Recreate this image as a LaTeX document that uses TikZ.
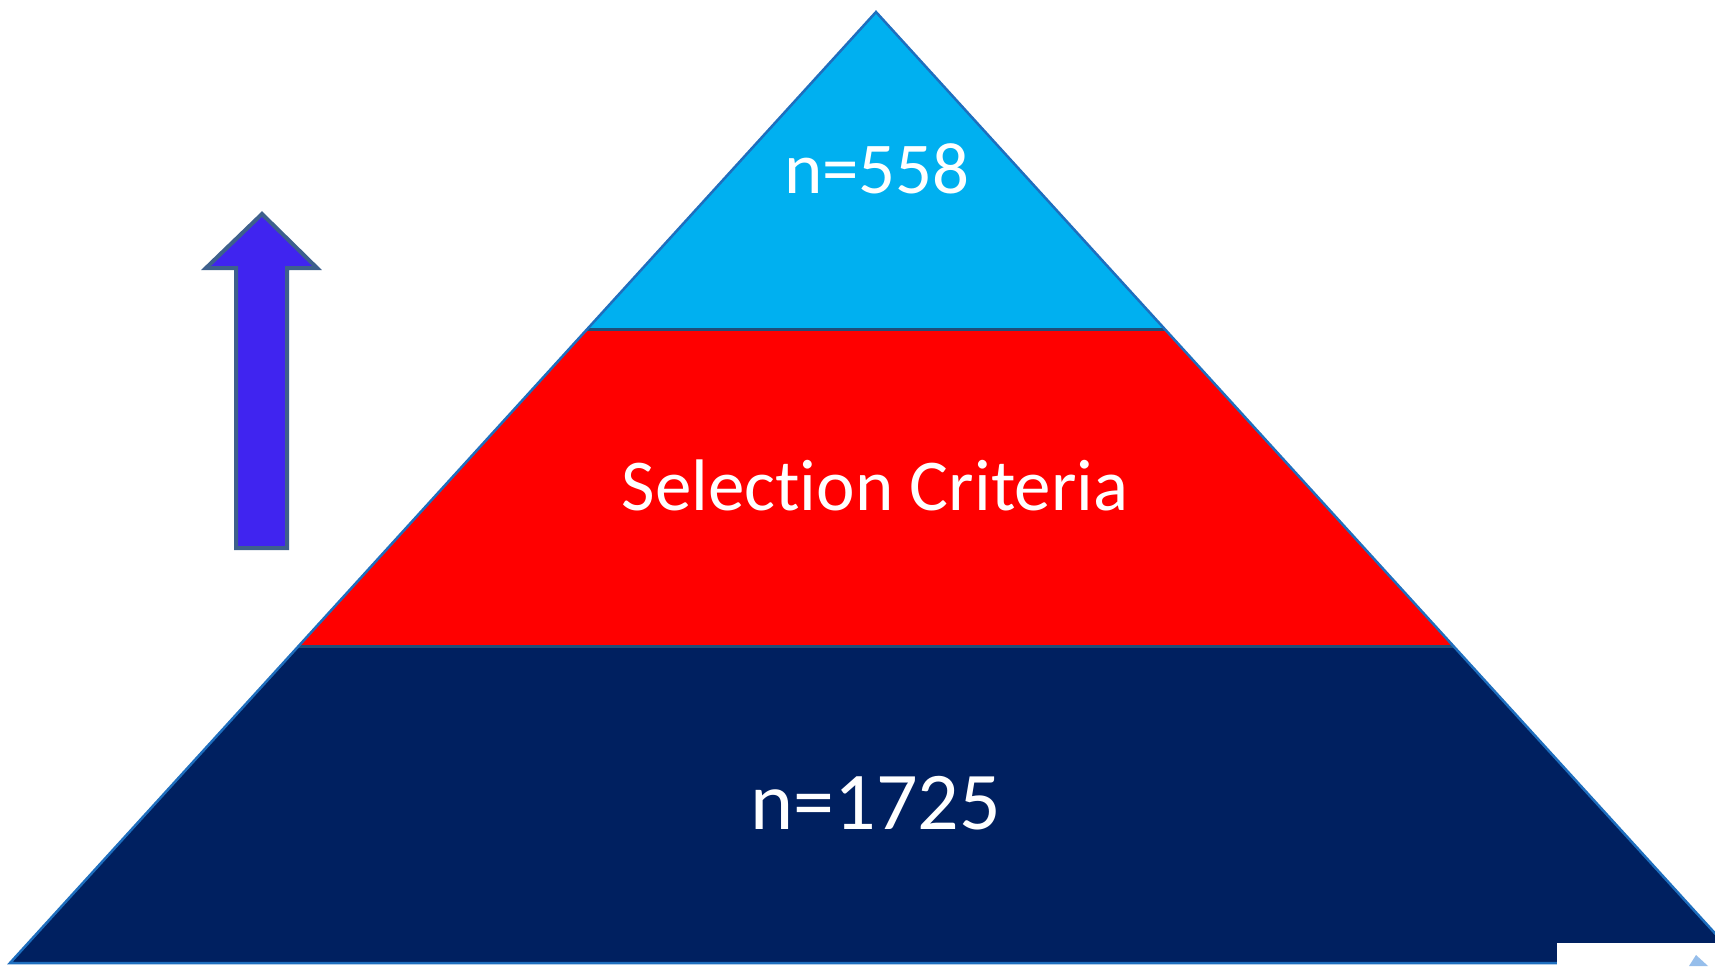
\documentclass[tikz,border=0pt]{standalone}
\usepackage{fontspec}
\setmainfont[Ligatures=NoCommon]{Carlito}
\definecolor{topblue}{RGB}{0,176,240}
\definecolor{midred}{RGB}{255,0,0}
\definecolor{botblue}{RGB}{0,32,96}
\definecolor{edgeblue}{RGB}{30,110,190}
\definecolor{sepblue}{RGB}{31,78,121}
\definecolor{arrowfill}{RGB}{64,36,240}
\definecolor{arrowline}{RGB}{62,96,140}
\definecolor{tinyblue}{RGB}{150,190,235}
\tikzset{
  sepline/.style={draw=sepblue, line width=3pt},
  outline/.style={draw=edgeblue, line width=2.5pt, line join=miter},
  label/.style={text=white, anchor=base, inner sep=0pt},
}
\begin{document}
\begin{tikzpicture}[x=1pt,y=-1pt]
\useasboundingbox (0,0) rectangle (1715,966);
\clip (0,0) rectangle (1715,966);
\fill[white] (0,0) rectangle (1715,966);
% corners
\coordinate (A) at (876,12);
\coordinate (L1) at (587,329);
\coordinate (R1) at (1165,329);
\coordinate (L2) at (299,646);
\coordinate (R2) at (1453,646);
\coordinate (L3) at (10,963);
\coordinate (R3) at (1742,963);
% bands
\fill[topblue] (A) -- (R1) -- (L1) -- cycle;
\fill[midred] (L1) -- (R1) -- (R2) -- (L2) -- cycle;
\fill[botblue] (L2) -- (R2) -- (R3) -- (L3) -- cycle;
\draw[sepline] (L1) -- (R1);
\draw[sepline] (L2) -- (R2);
\draw[outline] (A) -- (R3) -- (L3) -- cycle;
% texts
\node[label, font=\fontsize{73}{80}\selectfont] (t1) at (877,193) {n=558};
\node[label, font=\fontsize{73}{80}\selectfont] (t2) at (875,510) {Selection Criteria};
\node[label, font=\fontsize{82}{90}\selectfont] (t3) at (876,829) {n=1725};
% arrow
\draw[fill=arrowfill, draw=arrowline, line width=4pt, line join=miter]
  (262,214) -- (317,268) -- (287,268) -- (287,548) -- (236,548) -- (236,268) -- (206,268) -- cycle;
% bottom-right white patch
\fill[white] (1557,943) rectangle (1715,966);
\fill[tinyblue] (1689,966) -- (1696,955) -- (1708,966) -- cycle;
\end{tikzpicture}
\end{document}
